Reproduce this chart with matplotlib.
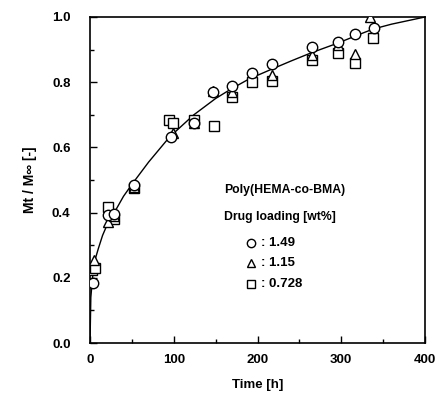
import matplotlib
matplotlib.use("Agg")
import matplotlib.pyplot as plt
from matplotlib.ticker import MultipleLocator

plt.rcParams['font.family'] = ['Liberation Sans', 'DejaVu Sans']
plt.rcParams['font.weight'] = 'bold'

# Data
t_circle = [4, 22, 29, 52, 97, 124, 147, 169, 194, 217, 265, 296, 316, 339]
v_circle = [0.185, 0.393, 0.395, 0.485, 0.632, 0.675, 0.77, 0.788, 0.828, 0.856, 0.908, 0.923, 0.948, 0.966]

t_tri = [5, 22, 29, 52, 99, 124, 147, 169, 217, 265, 296, 316, 334]
v_tri = [0.255, 0.371, 0.39, 0.48, 0.644, 0.675, 0.772, 0.77, 0.822, 0.883, 0.914, 0.886, 1.0]

t_sq = [2, 6, 22, 29, 52, 94, 99, 124, 148, 169, 194, 217, 265, 296, 316, 338]
v_sq = [0.225, 0.23, 0.417, 0.38, 0.475, 0.684, 0.675, 0.684, 0.666, 0.755, 0.80, 0.804, 0.868, 0.89, 0.859, 0.936]

t_fit = [0, 1, 3, 6, 10, 15, 20, 29, 40, 51, 70, 95, 124, 150, 169, 190, 217, 240, 264, 296, 320, 338, 360, 400]
v_fit = [0.0, 0.14, 0.2, 0.255, 0.29, 0.33, 0.36, 0.40, 0.45, 0.49, 0.555, 0.632, 0.70, 0.75, 0.78, 0.81, 0.84, 0.865, 0.89, 0.92, 0.945, 0.963, 0.978, 1.0]

legend_labels = [": 1.49", ": 1.15", ": 0.728"]

fig = plt.figure(figsize=(4.45, 4.07), dpi=100)
ax = fig.add_axes([90/445, 1-343/407, 335/445, 326/407])

ax.plot(t_fit, v_fit, color='black', lw=1.0, zorder=2)
mk = dict(ls='none', mfc='white', mec='black', mew=1.0, ms=7.5, zorder=3)
ax.plot(t_sq, v_sq, marker='s', **mk)
ax.plot(t_tri, v_tri, marker='^', **mk)
ax.plot(t_circle, v_circle, marker='o', **mk)

ax.set_xlim(0, 400)
ax.set_ylim(0, 1.0)
ax.xaxis.set_major_locator(MultipleLocator(100))
ax.xaxis.set_minor_locator(MultipleLocator(50))
ax.yaxis.set_major_locator(MultipleLocator(0.2))
ax.yaxis.set_minor_locator(MultipleLocator(0.1))
ax.yaxis.set_major_formatter(matplotlib.ticker.FormatStrFormatter('%.1f'))
ax.tick_params(which='both', direction='in', top=False, right=False, labelsize=9.5)
ax.tick_params(axis='x', which='major', pad=8)
ax.tick_params(axis='y', which='major', pad=14)
ax.tick_params(which='major', length=5, width=1)
ax.tick_params(which='minor', length=3, width=1)
for s in ax.spines.values():
    s.set_linewidth(1.2)

ax.set_xlabel("Time [h]", fontsize=9.5, fontweight='bold', labelpad=9)
ax.set_ylabel("Mt / M\u221e [-]", fontsize=10, fontweight='bold', labelpad=11)

ax.text(160, 0.469, "Poly(HEMA-co-BMA)", fontsize=8.8, fontweight='bold', va='center', ha='left')
ax.text(160, 0.386, "Drug loading [wt%]", fontsize=8.8, fontweight='bold', va='center', ha='left')
ys = [0.307, 0.245, 0.181]
markers = ['o', '^', 's']
for m, y, lab in zip(markers, ys, legend_labels):
    ax.plot([192], [y], marker=m, ls='none', mfc='white', mec='black', mew=1.0, ms=6)
    ax.text(204, y, lab, fontsize=9.5, fontweight='bold', va='center', ha='left')

fig.savefig("out.png", dpi=100)
